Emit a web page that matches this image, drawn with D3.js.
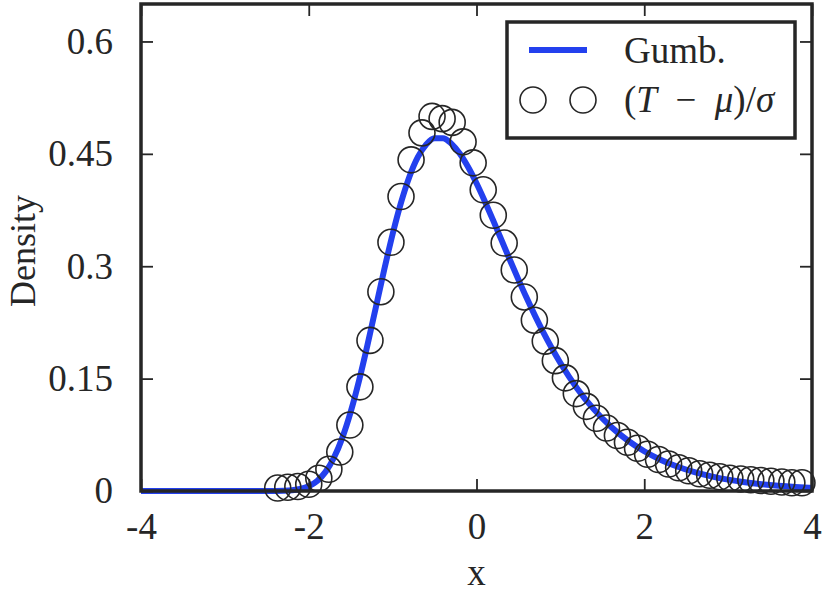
<!DOCTYPE html>
<html>
<head>
<meta charset="utf-8">
<script src="https://cdn.jsdelivr.net/npm/d3@7"></script>
<style>
  body { margin: 0; background: #fff; }
  text { font-family: "Liberation Serif", "Times New Roman", serif; fill: #262626; }
</style>
</head>
<body>
<div id="chart"></div>
<script>
// Gumbel density curve (x, density)
var curveX = [-4, -3, -2.6, -2.5, -2.4, -2.3, -2.2, -2.1, -2.0, -1.9, -1.8, -1.7, -1.6, -1.5, -1.4, -1.3, -1.2, -1.1, -1.0,
  -0.9, -0.8, -0.7, -0.6, -0.5, -0.4, -0.3, -0.2, -0.1, 0.0, 0.1, 0.2, 0.3, 0.4, 0.5, 0.6, 0.7, 0.8, 0.9, 1.0,
  1.2, 1.4, 1.6, 1.8, 2.0, 2.2, 2.4, 2.6, 2.8, 3.0, 3.2, 3.4, 3.6, 3.8, 4.0];
var curveY = [0, 0, 0.000003, 0.000017, 0.000079, 0.0003, 0.00097, 0.00264, 0.00632, 0.01339, 0.02552, 0.04432, 0.07089, 0.10552, 0.14742, 0.19481, 0.24518, 0.29551, 0.34286,
  0.38482, 0.41947, 0.44554, 0.46262, 0.47084, 0.47088, 0.46368, 0.45047, 0.43237, 0.41071, 0.38652, 0.36082, 0.33445, 0.30803, 0.28215, 0.25717, 0.23342, 0.21104, 0.19019, 0.1709,
  0.13696, 0.10894, 0.08607, 0.06769, 0.05303, 0.04144, 0.03231, 0.02515, 0.01956, 0.01519, 0.01179, 0.00913, 0.00708, 0.00548, 0.00424];

// histogram of (T - mu)/sigma
var pointX = [-2.37, -2.25, -2.13, -2.00, -1.88, -1.76, -1.63, -1.51, -1.39, -1.27, -1.14, -1.02, -0.90, -0.78, -0.65, -0.53,
  -0.41, -0.29, -0.16, -0.04, 0.08, 0.20, 0.33, 0.45, 0.57, 0.69, 0.82, 0.94, 1.06, 1.19, 1.31, 1.43, 1.55, 1.68,
  1.80, 1.92, 2.04, 2.17, 2.29, 2.41, 2.53, 2.66, 2.78, 2.90, 3.02, 3.15, 3.27, 3.39, 3.51, 3.64, 3.76, 3.88];
var pointY = [0.004, 0.005, 0.006, 0.009, 0.017, 0.029, 0.052, 0.088, 0.139, 0.201, 0.266, 0.332, 0.393, 0.442, 0.478, 0.5,
  0.497, 0.492, 0.466, 0.438, 0.402, 0.368, 0.331, 0.295, 0.259, 0.228, 0.2, 0.174, 0.151, 0.13, 0.113, 0.097, 0.084, 0.074,
  0.065, 0.057, 0.049, 0.042, 0.036, 0.031, 0.027, 0.023, 0.021, 0.019, 0.017, 0.016, 0.015, 0.014, 0.013, 0.012, 0.011, 0.011];

var xTicks = [-4, -2, 0, 2, 4];
var yTicks = [0, 0.15, 0.3, 0.45, 0.6];
var yTickLabels = ["0", "0.15", "0.3", "0.45", "0.6"];

(function() {
    var width = 824,
        height = 596;
    var left = 141, right = 812, top = 4, bottom = 491;
    var blue = "#2340ee",
        ink = "#262626";

    var svg = d3.select("#chart")
        .append("svg")
        .attr("width", width)
        .attr("height", height);

    var x = d3.scaleLinear().domain([-4, 4]).range([left, right]);
    var y = d3.scaleLinear().domain([0, 0.65]).range([bottom, top]);

    var curve = curveX.map(function(d, i) { return [d, curveY[i]]; });
    var points = pointX.map(function(d, i) { return [d, pointY[i]]; });

    var line = d3.line()
        .x(function(d) { return x(d[0]); })
        .y(function(d) { return y(d[1]); })
        .curve(d3.curveMonotoneX);

    svg.append("path")
        .datum(curve)
        .attr("d", line)
        .attr("fill", "none")
        .attr("stroke", blue)
        .attr("stroke-width", 6);

    svg.selectAll(".pt")
        .data(points)
        .enter().append("circle")
        .attr("class", "pt")
        .attr("cx", function(d) { return x(d[0]); })
        .attr("cy", function(d) { return y(d[1]); })
        .attr("r", 13)
        .attr("fill", "none")
        .attr("stroke", ink)
        .attr("stroke-width", 1.6);

    // axes: ticks point inwards, mirrored on top and right
    var tickLen = 12;
    svg.append("g")
        .attr("transform", "translate(0," + bottom + ")")
        .call(d3.axisBottom(x).tickValues(xTicks).tickSizeInner(-tickLen).tickSizeOuter(0).tickPadding(22)
            .tickFormat(function(d) { return d < 0 ? "-" + Math.abs(d) : d; }))
        .call(function(g) {
            g.select(".domain").remove();
            g.selectAll("line").attr("stroke", ink).attr("stroke-width", 1.8);
            g.selectAll("text").attr("font-size", 37).attr("font-family", "Liberation Serif").attr("fill", ink);
        });

    svg.append("g")
        .attr("transform", "translate(0," + top + ")")
        .call(d3.axisTop(x).tickValues(xTicks).tickSizeInner(-tickLen).tickSizeOuter(0).tickFormat(""))
        .call(function(g) {
            g.select(".domain").remove();
            g.selectAll("line").attr("stroke", ink).attr("stroke-width", 1.8);
        });

    svg.append("g")
        .attr("transform", "translate(" + left + ",0)")
        .call(d3.axisLeft(y).tickValues(yTicks).tickSizeInner(-tickLen).tickSizeOuter(0).tickPadding(28)
            .tickFormat(function(d, i) { return yTickLabels[i]; }))
        .call(function(g) {
            g.select(".domain").remove();
            g.selectAll("line").attr("stroke", ink).attr("stroke-width", 1.8);
            g.selectAll("text").attr("font-size", 37).attr("font-family", "Liberation Serif").attr("fill", ink);
        });

    svg.append("g")
        .attr("transform", "translate(" + right + ",0)")
        .call(d3.axisRight(y).tickValues(yTicks).tickSizeInner(-tickLen).tickSizeOuter(0).tickFormat(""))
        .call(function(g) {
            g.select(".domain").remove();
            g.selectAll("line").attr("stroke", ink).attr("stroke-width", 1.8);
        });

    svg.append("rect")
        .attr("x", left)
        .attr("y", top)
        .attr("width", right - left)
        .attr("height", bottom - top)
        .attr("fill", "none")
        .attr("stroke", ink)
        .attr("stroke-width", 3.5);

    // axis labels
    svg.append("text")
        .attr("x", (left + right) / 2)
        .attr("y", 585)
        .attr("text-anchor", "middle")
        .attr("font-size", 37)
        .text("x");

    svg.append("text")
        .attr("transform", "translate(35," + 251 + ") rotate(-90)")
        .attr("text-anchor", "middle")
        .attr("font-size", 36)
        .text("Density");

    // legend
    var legend = svg.append("g");
    legend.append("rect")
        .attr("x", 507)
        .attr("y", 22)
        .attr("width", 288)
        .attr("height", 116)
        .attr("fill", "#fff")
        .attr("stroke", ink)
        .attr("stroke-width", 3.5);

    legend.append("line")
        .attr("x1", 529).attr("x2", 587)
        .attr("y1", 50).attr("y2", 50)
        .attr("stroke", blue)
        .attr("stroke-width", 6);

    legend.append("text")
        .attr("x", 624)
        .attr("y", 63)
        .attr("font-size", 37)
        .text("Gumb.");

    legend.selectAll(".lc")
        .data([533, 583])
        .enter().append("circle")
        .attr("class", "lc")
        .attr("cx", function(d) { return d; })
        .attr("cy", 100)
        .attr("r", 13)
        .attr("fill", "none")
        .attr("stroke", ink)
        .attr("stroke-width", 1.6);

    var lab = legend.append("text")
        .attr("x", 624)
        .attr("y", 112)
        .attr("font-size", 37);
    lab.append("tspan").text("(");
    lab.append("tspan").attr("font-style", "italic").text("T");
    lab.append("tspan").text("\u2002\u2212\u2002");
    lab.append("tspan").attr("font-style", "italic").text("\u03bc");
    lab.append("tspan").text(")/");
    lab.append("tspan").attr("font-style", "italic").text("\u03c3");
})();
</script>
</body>
</html>
